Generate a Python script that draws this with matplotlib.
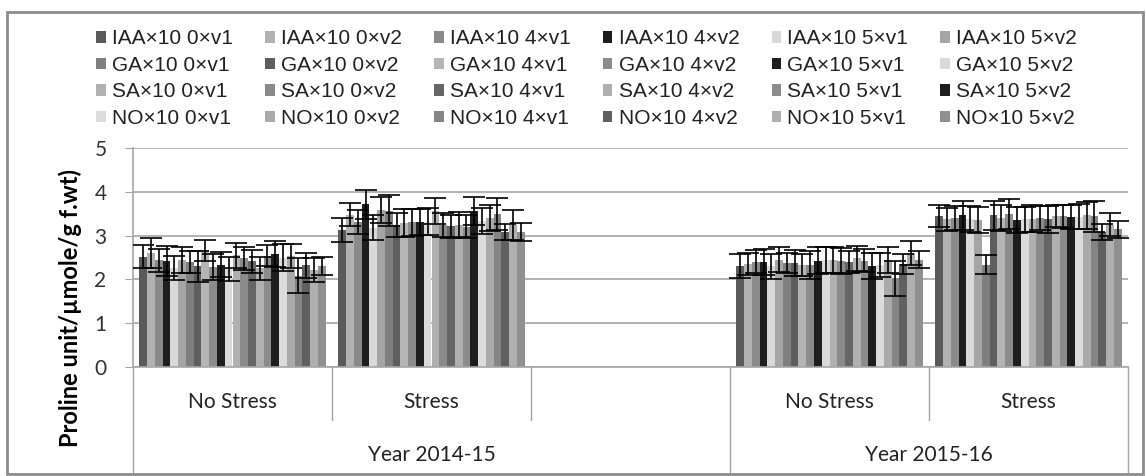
import matplotlib
matplotlib.use("Agg")
import matplotlib.pyplot as plt
import numpy as np
from matplotlib.patches import Patch, Rectangle

# series names (legend order, row by row)
series = ["IAA×10 0×v1", "IAA×10 0×v2", "IAA×10 4×v1", "IAA×10 4×v2", "IAA×10 5×v1", "IAA×10 5×v2",
          "GA×10 0×v1", "GA×10 0×v2", "GA×10 4×v1", "GA×10 4×v2", "GA×10 5×v1", "GA×10 5×v2",
          "SA×10 0×v1", "SA×10 0×v2", "SA×10 4×v1", "SA×10 4×v2", "SA×10 5×v1", "SA×10 5×v2",
          "NO×10 0×v1", "NO×10 0×v2", "NO×10 4×v1", "NO×10 4×v2", "NO×10 5×v1", "NO×10 5×v2"]
colors = ["#5a5a5a", "#b2b2b2", "#8a8a8a", "#1e1e1e", "#d9d9d9", "#a5a5a5",
          "#7f7f7f", "#5e5e5e", "#b5b5b5", "#8c8c8c", "#1e1e1e", "#dadada",
          "#b0b0b0", "#8a8a8a", "#666666", "#b0b0b0", "#8c8c8c", "#1e1e1e",
          "#dcdcdc", "#aaaaaa", "#858585", "#606060", "#b0b0b0", "#909090"]

# category slots: 0 NoStress 14-15, 1 Stress 14-15, 2 empty, 3 NoStress 15-16, 4 Stress 15-16
cat_labels = ["No Stress", "Stress", "", "No Stress", "Stress"]
year_labels = ["Year 2014-15", "Year 2015-16"]

y1415_ns = [2.52, 2.6, 2.44, 2.42, 2.26, 2.45, 2.4, 2.3, 2.66, 2.28, 2.34, 2.24,
            2.55, 2.48, 2.41, 2.25, 2.54, 2.58, 2.5, 2.53, 2.08, 2.32, 2.22, 2.3]
e1415_ns = [.26, .35, .26, .34, .27, .3, .25, .35, .24, .3, .28, .27,
            .28, .27, .27, .26, .24, .3, .3, .27, .4, .28, .27, .21]
y1415_s = [3.13, 3.48, 3.31, 3.72, 3.18, 3.59, 3.57, 3.24, 3.29, 3.3, 3.31, 3.32,
           3.56, 3.24, 3.21, 3.25, 3.2, 3.57, 3.33, 3.4, 3.49, 3.08, 3.24, 3.08]
e1415_s = [.27, .26, .27, .33, .29, .3, .35, .27, .32, .3, .3, .3,
           .3, .27, .26, .29, .26, .32, .29, .3, .37, .19, .35, .21]
y1516_ns = [2.3, 2.36, 2.4, 2.4, 2.3, 2.45, 2.37, 2.37, 2.32, 2.32, 2.43, 2.45,
            2.45, 2.42, 2.4, 2.48, 2.43, 2.31, 2.33, 2.44, 2.03, 2.35, 2.6, 2.45]
e1516_ns = [.27, .25, .26, .3, .28, .29, .23, .3, .25, .32, .3, .3,
            .3, .29, .25, .29, .27, .3, .27, .29, .4, .23, .27, .2]
y1516_s = [3.44, 3.37, 3.4, 3.46, 3.38, 3.35, 2.34, 3.46, 3.4, 3.49, 3.36, 3.37,
           3.39, 3.4, 3.37, 3.44, 3.44, 3.42, 3.43, 3.46, 3.44, 3.08, 3.25, 3.14]
e1516_s = [.25, .27, .28, .34, .3, .3, .22, .34, .3, .34, .29, .29,
           .3, .28, .3, .25, .26, .28, .29, .3, .35, .18, .26, .2]

groups = [(0, y1415_ns, e1415_ns), (1, y1415_s, e1415_s),
          (3, y1516_ns, e1516_ns), (4, y1516_s, e1516_s)]

W, H = 1146, 476
fig = plt.figure(figsize=(W / 100, H / 100), dpi=100)
ax = fig.add_axes([133 / W, 1 - 367 / H, 995 / W, 219 / H])

n = len(series)
bw = 0.039
for slot, vals, errs in groups:
    xs = slot + 0.5 + (np.arange(n) - (n - 1) / 2) * bw
    ax.bar(xs, vals, width=bw, color=colors, linewidth=0, zorder=2)
    ax.errorbar(xs, vals, yerr=errs, fmt="none", ecolor="black",
                elinewidth=1.2, capsize=8, capthick=1.2, zorder=3)

ax.set_xlim(0, 5)
ax.set_ylim(0, 5)
ax.set_yticks([0, 1, 2, 3, 4, 5])
ax.yaxis.grid(True, color="#a6a6a6", linewidth=1.2, zorder=0)
ax.set_axisbelow(True)
for s in ["top", "right"]:
    ax.spines[s].set_visible(False)
for s in ["left", "bottom"]:
    ax.spines[s].set_color("#a6a6a6")
    ax.spines[s].set_linewidth(1.2)
ax.set_xticks([])
ax.tick_params(axis="y", length=6, color="#a6a6a6", labelsize=15, pad=13)
for t in ax.get_yticklabels():
    t.set_fontfamily("Lato")
    t.set_color("#333333")

# y title centred on whole plot area (incl. category labels)
fig.text(70 / W, 1 - 308 / H, "Proline unit/µmole/g f.wt)", rotation=90,
         ha="center", va="center", fontsize=17, fontweight="bold", fontfamily="Lato")

# category axis: two levels
inner = -53 / 219
outer = -105 / 219
tr = ax.get_xaxis_transform()
for i in range(6):
    bottom = outer if i in (0, 3, 5) else inner
    ax.plot([i, i], [0, bottom], transform=tr, color="#a6a6a6", linewidth=1, clip_on=False)
for i, lab in enumerate(cat_labels):
    ax.text(i + 0.5, -35 / 219, lab, transform=tr, ha="center", va="center",
            fontsize=15, fontfamily="Lato", color="#222222")
ax.text(1.5, -88 / 219, year_labels[0], transform=tr, ha="center", va="center",
        fontsize=15, fontfamily="Lato", color="#222222")
ax.text(4.0, -88 / 219, year_labels[1], transform=tr, ha="center", va="center",
        fontsize=15, fontfamily="Lato", color="#222222")

# legend, filled row by row
handles = [Patch(facecolor=c, edgecolor="none") for c in colors]
order = [r * 6 + c for c in range(6) for r in range(4)]
leg = fig.legend([handles[k] for k in order], [series[k] for k in order],
                 ncols=6, loc="upper left", bbox_to_anchor=(86 / W, 1 - 19 / H),
                 frameon=False, prop={"family": "Liberation Sans", "size": 15},
                 handlelength=0.45, handleheight=0.45, handletextpad=0.3,
                 columnspacing=1.55, labelspacing=0.36, borderpad=0)
for t in leg.get_texts():
    t.set_color("#222222")

# chart border
fig.patches.append(Rectangle((7 / W, 2 / H), 1136 / W, 462 / H, transform=fig.transFigure,
                             fill=False, edgecolor="#8c8c8c", linewidth=2))

fig.savefig("out.png", dpi=100)
